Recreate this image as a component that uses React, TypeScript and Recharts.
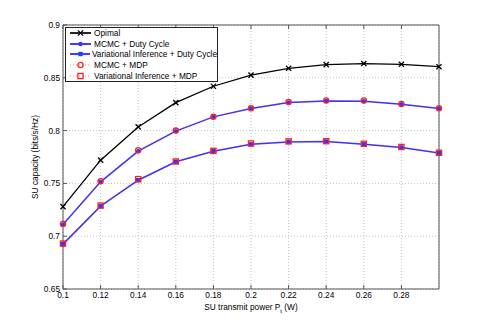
import React from "react";
import { LineChart, Line, XAxis, YAxis, CartesianGrid } from "recharts";

const power = [0.1, 0.12, 0.14, 0.16, 0.18, 0.2, 0.22, 0.24, 0.26, 0.28, 0.3];
const optimal = [0.728, 0.772, 0.8035, 0.8265, 0.842, 0.8525, 0.859, 0.8625, 0.8635, 0.8628, 0.8605];
const mcmcDuty = [0.711, 0.7515, 0.7805, 0.7995, 0.813, 0.821, 0.8265, 0.828, 0.8278, 0.825, 0.821];
const viDuty = [0.6925, 0.7285, 0.753, 0.7705, 0.7805, 0.787, 0.7893, 0.7897, 0.787, 0.784, 0.7788];
const mcmcMdp = [0.7115, 0.752, 0.7815, 0.8, 0.8132, 0.8212, 0.827, 0.8285, 0.8285, 0.8252, 0.8212];
const viMdp = [0.693, 0.729, 0.754, 0.7707, 0.7808, 0.7878, 0.7898, 0.79, 0.7875, 0.7845, 0.779];

const xTicks = [0.1, 0.12, 0.14, 0.16, 0.18, 0.2, 0.22, 0.24, 0.26, 0.28];
const yTicks = [0.65, 0.7, 0.75, 0.8, 0.85, 0.9];

const FONT = "'Liberation Sans', Arial, Helvetica, sans-serif";
const FS = 8.3;
const AXIS = "#555";
const BLUE = "#3535ff";
const RED = "#ff2020";

type Marker = "x" | "dotFill" | "sqFill" | "dotOpen" | "sqOpen";

const series = [
  { key: "optimal", name: "Opimal", color: "#000", dash: undefined, width: 1.3, opacity: 1, marker: "x" as Marker },
  { key: "mcmcDuty", name: "MCMC + Duty Cycle", color: BLUE, dash: undefined, width: 1.5, opacity: 1, marker: "dotFill" as Marker },
  { key: "viDuty", name: "Variational Inference + Duty Cycle", color: BLUE, dash: undefined, width: 1.5, opacity: 1, marker: "sqFill" as Marker },
  { key: "mcmcMdp", name: "MCMC + MDP", color: RED, dash: "1 2", width: 0.7, opacity: 0.55, marker: "dotOpen" as Marker },
  { key: "viMdp", name: "Variational Inference + MDP", color: RED, dash: "1 2", width: 0.7, opacity: 0.55, marker: "sqOpen" as Marker },
];

const rows = power.map((p, i) => ({
  p,
  optimal: optimal[i],
  mcmcDuty: mcmcDuty[i],
  viDuty: viDuty[i],
  mcmcMdp: mcmcMdp[i],
  viMdp: viMdp[i],
}));

function drawMarker(m: Marker, cx: number, cy: number, color: string, key?: any) {
  if (m === "x") {
    const r = 2.6;
    return (
      <g key={key}>
        <line x1={cx - r} y1={cy - r} x2={cx + r} y2={cy + r} stroke={color} strokeWidth={1.3} />
        <line x1={cx - r} y1={cy + r} x2={cx + r} y2={cy - r} stroke={color} strokeWidth={1.3} />
      </g>
    );
  }
  if (m === "dotFill") return <circle key={key} cx={cx} cy={cy} r={2.2} fill={color} />;
  if (m === "sqFill") return <rect key={key} x={cx - 2.2} y={cy - 2.2} width={4.4} height={4.4} fill={color} />;
  if (m === "dotOpen") return <circle key={key} cx={cx} cy={cy} r={2.6} fill="none" stroke={color} strokeWidth={1.3} />;
  return <rect key={key} x={cx - 2.6} y={cy - 2.6} width={5.2} height={5.2} fill="none" stroke={color} strokeWidth={1.3} />;
}

const makeDot = (m: Marker, color: string) => (props: any) => {
  const { cx, cy, index } = props;
  if (cx == null || cy == null) return <g key={index} />;
  return drawMarker(m, cx, cy, color, index);
};

const LegendBox = () => (
  <div
    style={{
      position: "absolute",
      left: 65,
      top: 27,
      width: 153,
      height: 55,
      border: "1px solid #222",
      background: "#fff",
      fontFamily: FONT,
      fontSize: FS,
      color: "#000",
      padding: "0 0 0 3px",
      boxSizing: "border-box",
    }}
  >
    {series.map((s) => (
      <div key={s.key} style={{ display: "flex", alignItems: "center", height: 10.6, whiteSpace: "nowrap" }}>
        <svg width={23} height={10} style={{ display: "block", marginRight: 2 }}>
          <line
            x1={1}
            y1={5}
            x2={22}
            y2={5}
            stroke={s.color}
            strokeOpacity={s.opacity}
            strokeWidth={s.width + 0.4}
            strokeDasharray={s.dash}
          />
          {drawMarker(s.marker, 11.5, 5, s.color)}
        </svg>
        <span>{s.name}</span>
      </div>
    ))}
  </div>
);

const tickStyle = { fontSize: FS, fill: "#000", fontFamily: FONT };

export default function App() {
  return (
    <div style={{ position: "absolute", left: 0, top: 0, width: 485, height: 326, background: "#fff" }}>
      <LineChart width={485} height={326} data={rows} margin={{ top: 24, right: 45, bottom: 0, left: 0 }}>
        <CartesianGrid stroke="#c4c4c4" strokeDasharray="1 2" />
        <XAxis
          dataKey="p"
          type="number"
          domain={[0.1, 0.3]}
          ticks={xTicks}
          height={37}
          tick={tickStyle}
          tickSize={-4}
          tickMargin={7}
          axisLine={{ stroke: AXIS }}
          tickLine={{ stroke: AXIS }}
          interval={0}
          label={{
            content: (props: any) => {
              const vb = props.viewBox || {};
              const cx = vb.x + vb.width / 2;
              return (
                <text x={cx} y={310} textAnchor="middle" fontFamily={FONT} fontSize={FS} fill="#000">
                  SU transmit power P
                  <tspan fontSize={6} dy={3}>t</tspan>
                  <tspan dy={-3}> (W)</tspan>
                </text>
              );
            },
          }}
        />
        <XAxis
          xAxisId="top"
          dataKey="p"
          type="number"
          orientation="top"
          domain={[0.1, 0.3]}
          ticks={xTicks}
          height={1}
          tick={() => <g />}
          tickSize={-4}
          axisLine={{ stroke: AXIS }}
          tickLine={{ stroke: AXIS }}
          interval={0}
        />
        <YAxis
          type="number"
          domain={[0.65, 0.9]}
          ticks={yTicks}
          width={63}
          tick={tickStyle}
          tickSize={-4}
          tickMargin={7}
          axisLine={{ stroke: AXIS }}
          tickLine={{ stroke: AXIS }}
          interval={0}
          label={{
            content: (props: any) => {
              const vb = props.viewBox || {};
              const cy = vb.y + vb.height / 2;
              return (
                <text
                  x={38}
                  y={cy}
                  textAnchor="middle"
                  fontFamily={FONT}
                  fontSize={FS}
                  fill="#000"
                  transform={`rotate(-90 38 ${cy})`}
                >
                  SU capacity (bits/s/Hz)
                </text>
              );
            },
          }}
        />
        <YAxis
          yAxisId="right"
          orientation="right"
          type="number"
          domain={[0.65, 0.9]}
          ticks={yTicks}
          width={1}
          tick={() => <g />}
          tickSize={-4}
          axisLine={{ stroke: AXIS }}
          tickLine={{ stroke: AXIS }}
          interval={0}
        />
        {series.map((s) => (
          <Line
            key={s.key}
            dataKey={s.key}
            name={s.name}
            type="linear"
            stroke={s.color}
            strokeOpacity={s.opacity}
            strokeWidth={s.width}
            strokeDasharray={s.dash}
            dot={makeDot(s.marker, s.color)}
            activeDot={false}
            isAnimationActive={false}
          />
        ))}
      </LineChart>
      <LegendBox />
    </div>
  );
}
